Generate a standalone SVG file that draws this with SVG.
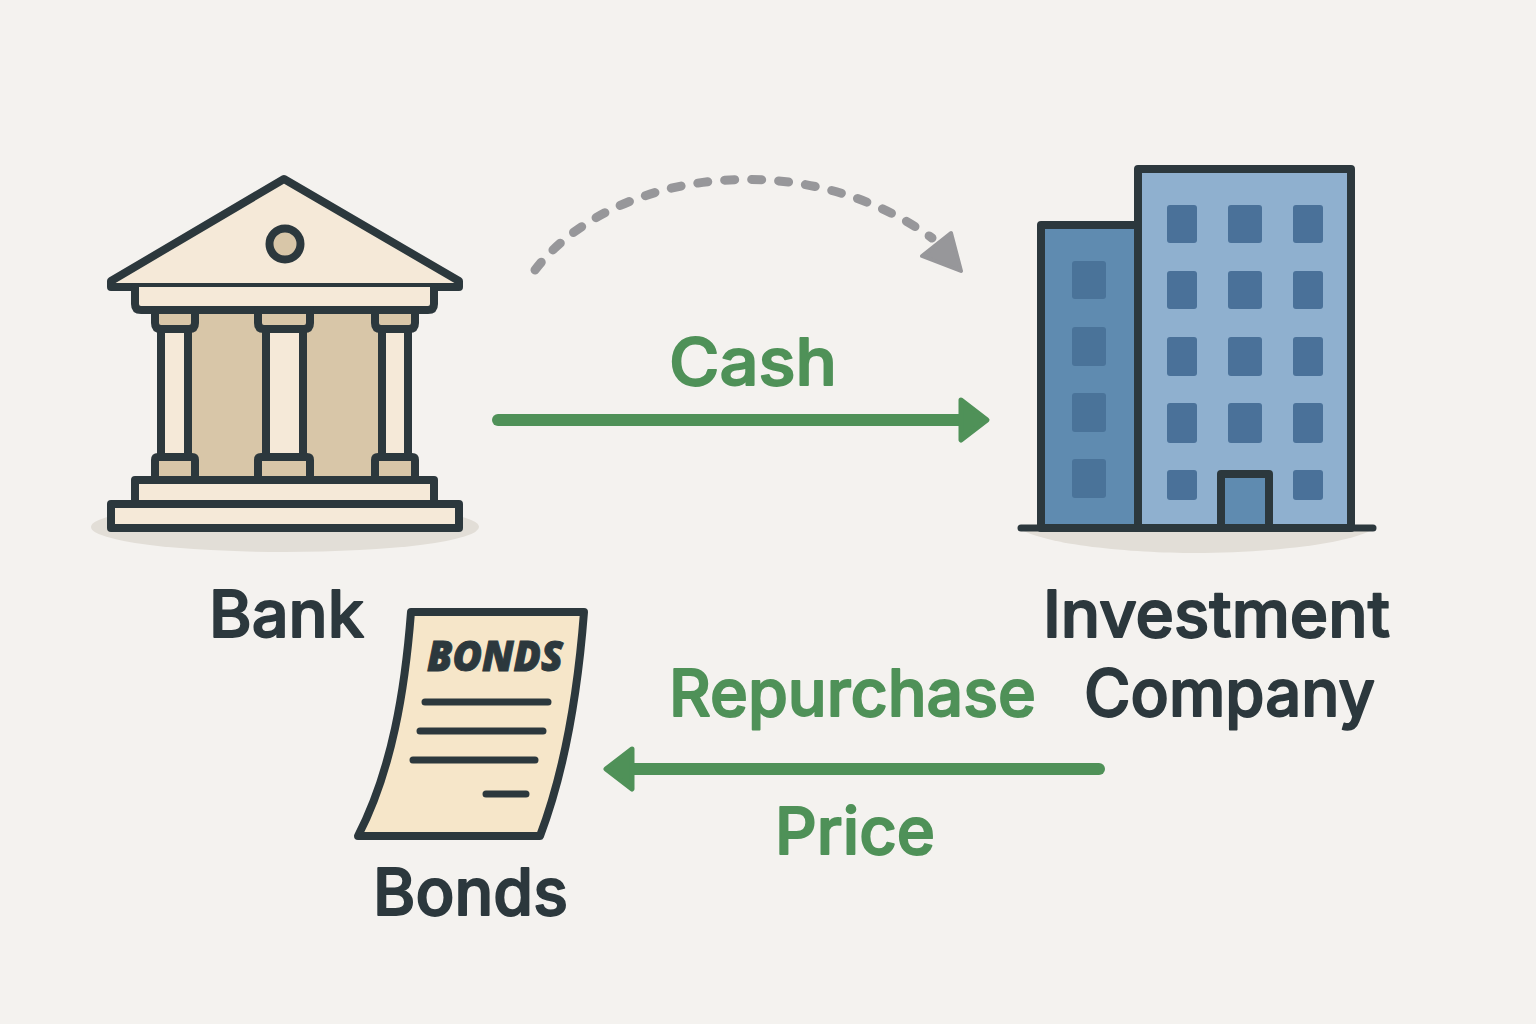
<svg xmlns="http://www.w3.org/2000/svg" width="1536" height="1024" viewBox="0 0 1536 1024">
<style>
.o{stroke:#2c383d;stroke-width:8;stroke-linejoin:round;stroke-linecap:round}
.c{fill:#f5e9d8}.t{fill:#d8c6a8}
.sh{fill:#e2ded7}
.w{fill:#4a7199}.wl{fill:#4a7399}
.lb{font-family:Inter,"Noto Sans",sans-serif;font-size:65px;font-weight:500;stroke-width:1.8;stroke-linejoin:round}
.dk{fill:#2c383d;stroke:#2c383d}
.gr{fill:#4f9158;stroke:#4f9158}
.ln{fill:none;stroke:#2c383d;stroke-width:7;stroke-linecap:round}
</style>
<rect width="1536" height="1024" fill="#f4f2ef"/>
<g id="bank">
<ellipse class="sh" cx="285" cy="527" rx="194" ry="25"/>
<rect class="t" x="188" y="310" width="194" height="170"/>
<path class="o c" d="M284,179 L111,281 V287 H459 V281 Z"/>
<circle class="o t" cx="285" cy="244" r="15.5"/>
<path class="o c" d="M135,287 V304 Q135,310 141,310 H428 Q434,310 434,304 V287"/>
<path class="o c" d="M161,329 H188 V457 H161 Z M266,329 H303 V457 H266 Z M382,329 H408 V457 H382 Z"/>
<path class="o t" d="M155,310 H195 V323 Q195,329 189,329 H161 Q155,329 155,323 Z M258,310 H310 V323 Q310,329 304,329 H264 Q258,329 258,323 Z M375,310 H415 V323 Q415,329 409,329 H381 Q375,329 375,323 Z"/>
<path class="o t" d="M155,480 V460 Q155,457 158,457 H192 Q195,457 195,460 V480 Z M258,480 V460 Q258,457 261,457 H307 Q310,457 310,460 V480 Z M375,480 V460 Q375,457 378,457 H412 Q415,457 415,460 V480 Z"/>
<rect class="o c" x="135" y="480" width="299" height="24"/>
<rect class="o c" x="111" y="504" width="348" height="24"/>
<text class="lb dk" x="209" y="637" textLength="155" lengthAdjust="spacingAndGlyphs">Bank</text>
</g>
<g id="investment-company">
<path class="sh" d="M1018,528 H1375 C1350,545 1260,553 1196,553 C1130,553 1045,545 1018,528 Z"/>
<rect class="o" x="1041" y="225" width="100" height="303" fill="#5f8bb0"/>
<rect class="o" x="1138" y="169" width="213" height="359" fill="#8fb0cf"/>
<g class="wl">
<rect x="1072" y="261" width="34" height="38" rx="3"/><rect x="1072" y="327" width="34" height="39" rx="3"/><rect x="1072" y="393" width="34" height="39" rx="3"/><rect x="1072" y="459" width="34" height="39" rx="3"/>
</g>
<g class="w">
<rect x="1167" y="205" width="30" height="38" rx="3"/><rect x="1228" y="205" width="34" height="38" rx="3"/><rect x="1293" y="205" width="30" height="38" rx="3"/>
<rect x="1167" y="271" width="30" height="38" rx="3"/><rect x="1228" y="271" width="34" height="38" rx="3"/><rect x="1293" y="271" width="30" height="38" rx="3"/>
<rect x="1167" y="337" width="30" height="39" rx="3"/><rect x="1228" y="337" width="34" height="39" rx="3"/><rect x="1293" y="337" width="30" height="39" rx="3"/>
<rect x="1167" y="403" width="30" height="40" rx="3"/><rect x="1228" y="403" width="34" height="40" rx="3"/><rect x="1293" y="403" width="30" height="40" rx="3"/>
<rect x="1167" y="470" width="30" height="30" rx="3"/><rect x="1293" y="470" width="30" height="30" rx="3"/>
</g>
<rect class="o" x="1221" y="474" width="48" height="54" fill="#5f8bb0"/>
<path d="M1021,528 H1373" fill="none" stroke="#2c383d" stroke-width="7" stroke-linecap="round"/>
<text class="lb dk" x="1043" y="637" textLength="347" lengthAdjust="spacingAndGlyphs">Investment</text>
<text class="lb dk" x="1084" y="716" textLength="291" lengthAdjust="spacingAndGlyphs">Company</text>
</g>
<g id="bonds">
<path class="o" fill="#f6e6c9" d="M411,612 H584 C578,690 565,770 540,836 H358 C392,770 405,690 411,612 Z"/>
<text x="427" y="671" font-family="'Open Sans',sans-serif" font-size="43" font-weight="800" font-style="italic" fill="#2c383d" stroke="#2c383d" stroke-width="1" textLength="136" lengthAdjust="spacingAndGlyphs">BONDS</text>
<path class="ln" d="M425,702 H548 M420,731 H543 M413,760 H535 M486,794 H526"/>
<text class="lb dk" x="373" y="915" textLength="195" lengthAdjust="spacingAndGlyphs">Bonds</text>
</g>
<g id="connectors">
<path d="M498,420 H965" fill="none" stroke="#4f9158" stroke-width="12" stroke-linecap="round"/>
<path d="M961,400 L987,420 L961,440 Z" fill="#4f9158" stroke="#4f9158" stroke-width="5" stroke-linejoin="round"/>
<path d="M1099,769 H628" fill="none" stroke="#4f9158" stroke-width="12" stroke-linecap="round"/>
<path d="M632,749 L606,769 L632,789 Z" fill="#4f9158" stroke="#4f9158" stroke-width="5" stroke-linejoin="round"/>
<path d="M535,270 C610,172 800,142 932,238" fill="none" stroke="#97979a" stroke-width="9" stroke-linecap="round" stroke-dasharray="10 17"/>
<path d="M951,233 L961,271 L922,256 Z" fill="#97979a" stroke="#97979a" stroke-width="4" stroke-linejoin="round"/>
<text class="lb gr" x="669" y="385" textLength="168" lengthAdjust="spacingAndGlyphs">Cash</text>
<text class="lb gr" x="669" y="716" textLength="367" lengthAdjust="spacingAndGlyphs">Repurchase</text>
<text class="lb gr" x="775" y="854" textLength="160" lengthAdjust="spacingAndGlyphs">Price</text>
</g>
</svg>
